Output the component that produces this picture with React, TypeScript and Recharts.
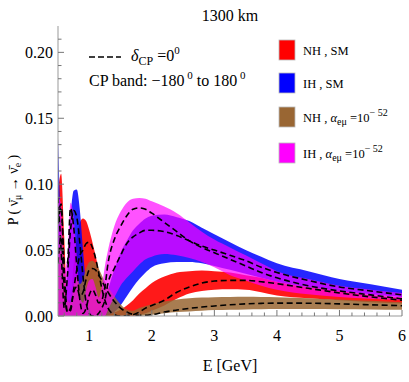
import { ComposedChart, Area, Line, XAxis, YAxis } from 'recharts';

// energies (GeV)
const energy = [0.5, 0.55, 0.6, 0.65, 0.7, 0.75, 0.8, 0.85, 0.9, 0.95, 1.0, 1.05, 1.1, 1.15, 1.2, 1.25, 1.3, 1.4, 1.5, 1.6, 1.7, 1.8, 1.9, 2.0, 2.2, 2.4, 2.6, 2.8, 3.0, 3.25, 3.5, 3.75, 4.0, 4.5, 5.0, 5.5, 6.0];

// NH, SM
const nhSmHi = [0.095, 0.108, 0.06, 0.012, 0.012, 0.04, 0.06, 0.071, 0.074, 0.072, 0.065, 0.056, 0.046, 0.035, 0.024, 0.014, 0.007, 0.003, 0.005, 0.008, 0.012, 0.017, 0.021, 0.025, 0.03, 0.033, 0.034, 0.0345, 0.034, 0.033, 0.031, 0.029, 0.026, 0.022, 0.019, 0.016, 0.014];
const nhSmLo = [0, 0, 0, 0, 0, 0, 0, 0, 0, 0, 0, 0, 0, 0, 0, 0, 0, 0, 0, 0, 0, 0.001, 0.002, 0.004, 0.008, 0.013, 0.017, 0.019, 0.02, 0.0202, 0.02, 0.018, 0.0155, 0.0135, 0.012, 0.0105, 0.0095];
const nhSmCp0 = [0.07, 0.082, 0.035, 0.003, 0.004, 0.02, 0.035, 0.046, 0.05, 0.055, 0.056, 0.052, 0.044, 0.033, 0.021, 0.012, 0.006, 0.001, 0, 0.0003, 0.001, 0.003, 0.006, 0.008, 0.012, 0.018, 0.022, 0.025, 0.0265, 0.027, 0.027, 0.026, 0.0245, 0.021, 0.0175, 0.0145, 0.012];

// IH, SM
const ihSmHi = [0.135, 0.06, 0.008, 0.035, 0.075, 0.095, 0.096, 0.08, 0.05, 0.022, 0.007, 0.002, 0.001, 0.002, 0.006, 0.012, 0.02, 0.035, 0.048, 0.057, 0.065, 0.07, 0.074, 0.076, 0.077, 0.075, 0.072, 0.067, 0.062, 0.056, 0.05, 0.045, 0.04, 0.034, 0.028, 0.024, 0.02];
const ihSmLo = [0, 0, 0, 0, 0, 0, 0, 0, 0, 0, 0, 0, 0, 0, 0, 0, 0.0005, 0.003, 0.008, 0.015, 0.022, 0.028, 0.033, 0.037, 0.04, 0.041, 0.041, 0.04, 0.038, 0.035, 0.032, 0.029, 0.026, 0.022, 0.019, 0.0165, 0.0145];
const ihSmCp0 = [0.09, 0.05, 0.006, 0.03, 0.065, 0.08, 0.075, 0.055, 0.03, 0.01, 0.002, 0, 0, 0.002, 0.006, 0.012, 0.025, 0.036, 0.046, 0.055, 0.06, 0.063, 0.065, 0.065, 0.064, 0.061, 0.057, 0.053, 0.05, 0.046, 0.042, 0.037, 0.033, 0.027, 0.022, 0.019, 0.016];

// NH, alpha_emu = 1e-52
const nhAlHi = [0.03, 0.065, 0.04, 0.012, 0.01, 0.022, 0.03, 0.024, 0.028, 0.036, 0.041, 0.042, 0.04, 0.036, 0.031, 0.026, 0.022, 0.015, 0.009, 0.005, 0.004, 0.006, 0.0075, 0.009, 0.011, 0.0125, 0.0135, 0.014, 0.0143, 0.0145, 0.0146, 0.0145, 0.0143, 0.0135, 0.0125, 0.0115, 0.0105];
const nhAlLo = [0, 0, 0, 0, 0, 0, 0, 0, 0, 0, 0, 0, 0, 0, 0, 0, 0, 0, 0, 0, 0, 0, 0.0005, 0.001, 0.002, 0.003, 0.0035, 0.004, 0.0045, 0.0048, 0.005, 0.0052, 0.0053, 0.0053, 0.0052, 0.005, 0.0047];
const nhAlCp0 = [0.04, 0.06, 0.02, 0.003, 0.006, 0.018, 0.022, 0.015, 0.018, 0.028, 0.035, 0.036, 0.035, 0.031, 0.027, 0.022, 0.018, 0.011, 0.006, 0.003, 0.0012, 0.0005, 0.0005, 0.001, 0.003, 0.0045, 0.0058, 0.0068, 0.0076, 0.0085, 0.0092, 0.0096, 0.0098, 0.0097, 0.0092, 0.0085, 0.0078];

// IH, alpha_emu = 1e-52
const ihAlHi = [0.09, 0.085, 0.035, 0.045, 0.086, 0.075, 0.045, 0.015, 0.01, 0.02, 0.027, 0.028, 0.022, 0.014, 0.022, 0.038, 0.05, 0.068, 0.079, 0.086, 0.089, 0.0895, 0.089, 0.087, 0.083, 0.078, 0.071, 0.064, 0.058, 0.052, 0.046, 0.04, 0.034, 0.028, 0.023, 0.02, 0.0175];
const ihAlLo = [0, 0, 0, 0, 0, 0, 0, 0, 0, 0, 0, 0, 0, 0, 0, 0, 0.005, 0.014, 0.023, 0.029, 0.034, 0.039, 0.043, 0.045, 0.047, 0.046, 0.044, 0.041, 0.037, 0.031, 0.027, 0.023, 0.02, 0.0165, 0.0145, 0.013, 0.012];
const ihAlCp0 = [0.075, 0.085, 0.04, 0.04, 0.082, 0.068, 0.038, 0.012, 0.002, 0.006, 0.016, 0.02, 0.016, 0.01, 0.012, 0.022, 0.04, 0.058, 0.068, 0.076, 0.081, 0.082, 0.081, 0.078, 0.071, 0.064, 0.057, 0.052, 0.048, 0.043, 0.038, 0.033, 0.029, 0.023, 0.019, 0.016, 0.013];

const xMajor = [1, 2, 3, 4, 5, 6];
const xMinor = [0.6, 0.8, 1.2, 1.4, 1.6, 1.8, 2.2, 2.4, 2.6, 2.8, 3.2, 3.4, 3.6, 3.8, 4.2, 4.4, 4.6, 4.8, 5.2, 5.4, 5.6, 5.8];
const yMajor = [0, 0.05, 0.1, 0.15, 0.2];
const yMinor = [0.01, 0.02, 0.03, 0.04, 0.06, 0.07, 0.08, 0.09, 0.11, 0.12, 0.13, 0.14, 0.16, 0.17, 0.18, 0.19, 0.21];

const data = energy.map((e, i) => ({
  e,
  nhSm: [nhSmLo[i], nhSmHi[i]],
  ihSm: [ihSmLo[i], ihSmHi[i]],
  nhAl: [nhAlLo[i], nhAlHi[i]],
  ihAl: [ihAlLo[i], ihAlHi[i]],
  nhSmCp0: nhSmCp0[i],
  ihSmCp0: ihSmCp0[i],
  nhAlCp0: nhAlCp0[i],
  ihAlCp0: ihAlCp0[i],
}));

const FONT = '"Liberation Serif", "Times New Roman", serif';
const TXT = { fontFamily: FONT };
const TICK = '#777';
const FRAME = '#999';
const DASH = '6 3.5';

const isMajor = (list: number[], v: number) => list.some((m) => Math.abs(m - v) < 1e-9);

const BottomTick = ({ x, y, payload }: any) => {
  const major = isMajor(xMajor, payload.value);
  return (
    <g>
      <line x1={x} x2={x} y1={y} y2={y - (major ? 6 : 3.5)} stroke={TICK} />
      {major && (
        <text x={x} y={y + 25} textAnchor="middle" fontSize={16} style={TXT} fill="#000">
          {payload.value}
        </text>
      )}
    </g>
  );
};

const TopTick = ({ x, y, payload }: any) => {
  const major = isMajor(xMajor, payload.value);
  return <line x1={x} x2={x} y1={y} y2={y + (major ? 6 : 3.5)} stroke={TICK} />;
};

const LeftTick = ({ x, y, payload }: any) => {
  const major = isMajor(yMajor, payload.value);
  return (
    <g>
      <line x1={x} x2={x + (major ? 6 : 3.5)} y1={y} y2={y} stroke={TICK} />
      {major && (
        <text x={x - 5} y={y + 6} textAnchor="end" fontSize={16} style={TXT} fill="#000">
          {payload.value.toFixed(2)}
        </text>
      )}
    </g>
  );
};

const RightTick = ({ x, y, payload }: any) => {
  const major = isMajor(yMajor, payload.value);
  return <line x1={x} x2={x - (major ? 6 : 3.5)} y1={y} y2={y} stroke={TICK} />;
};

const legendRows = [
  { color: '#ff0000', y: 40, label: 'NH', model: 'SM' },
  { color: '#0000ff', y: 73, label: 'IH', model: 'SM' },
  { color: '#996633', y: 107, label: 'NH', model: 'alpha' },
  { color: '#ff00ff', y: 143, label: 'IH', model: 'alpha' },
];

export default function App() {
  return (
    <div style={{ position: 'absolute', left: 0, top: 0, width: 409, height: 382, background: '#fff' }}>
      <ComposedChart
        width={409}
        height={382}
        data={data}
        margin={{ top: 26, right: 7, bottom: 36, left: 0 }}
      >
        <XAxis
          dataKey="e"
          type="number"
          domain={[0.5, 6]}
          allowDataOverflow
          ticks={[...xMinor, ...xMajor].sort((a, b) => a - b)}
          interval={0}
          height={30}
          tickSize={0}
          tickMargin={0}
          tickLine={false}
          axisLine={{ stroke: FRAME }}
          tick={<BottomTick />}
        />
        <XAxis
          xAxisId="top"
          orientation="top"
          dataKey="e"
          type="number"
          domain={[0.5, 6]}
          allowDataOverflow
          ticks={[...xMinor, ...xMajor].sort((a, b) => a - b)}
          interval={0}
          height={0}
          tickSize={0}
          tickMargin={0}
          tickLine={false}
          axisLine={{ stroke: FRAME }}
          tick={<TopTick />}
        />
        <YAxis
          type="number"
          domain={[0, 0.22]}
          allowDataOverflow
          ticks={[...yMinor, ...yMajor].sort((a, b) => a - b)}
          interval={0}
          width={58}
          tickSize={0}
          tickMargin={0}
          tickLine={false}
          axisLine={{ stroke: FRAME }}
          tick={<LeftTick />}
        />
        <YAxis
          yAxisId="right"
          orientation="right"
          type="number"
          domain={[0, 0.22]}
          allowDataOverflow
          ticks={[...yMinor, ...yMajor].sort((a, b) => a - b)}
          interval={0}
          width={0}
          tickSize={0}
          tickMargin={0}
          tickLine={false}
          axisLine={{ stroke: FRAME }}
          tick={<RightTick />}
        />

        <Area dataKey="nhSm" type="monotone" stroke="none" fill="#ff0000" fillOpacity={0.9} isAnimationActive={false} />
        <Area dataKey="ihSm" type="monotone" stroke="none" fill="#0000ff" fillOpacity={0.85} isAnimationActive={false} />
        <Area dataKey="nhAl" type="monotone" stroke="none" fill="#996633" fillOpacity={0.85} isAnimationActive={false} />
        <Area dataKey="ihAl" type="monotone" stroke="none" fill="#ff00ff" fillOpacity={0.68} isAnimationActive={false} />

        <Line dataKey="nhSmCp0" type="monotone" stroke="#000" strokeWidth={1.6} strokeDasharray={DASH} dot={false} isAnimationActive={false} />
        <Line dataKey="ihSmCp0" type="monotone" stroke="#000" strokeWidth={1.6} strokeDasharray={DASH} dot={false} isAnimationActive={false} />
        <Line dataKey="nhAlCp0" type="monotone" stroke="#000" strokeWidth={1.6} strokeDasharray={DASH} dot={false} isAnimationActive={false} />
        <Line dataKey="ihAlCp0" type="monotone" stroke="#000" strokeWidth={1.6} strokeDasharray={DASH} dot={false} isAnimationActive={false} />
      </ComposedChart>

      <svg width={409} height={382} style={{ position: 'absolute', left: 0, top: 0, pointerEvents: 'none', fontFamily: FONT }}>
        <text x={230} y={21} textAnchor="middle" fontSize={16} style={TXT}>1300 km</text>
        <text x={230} y={371} textAnchor="middle" fontSize={16} style={TXT}>E [GeV]</text>
        <text transform="translate(18,190) rotate(-90)" textAnchor="middle" fontSize={14} style={TXT}>
          P ( ν̄<tspan dy={3} fontSize={10}>μ</tspan>
          <tspan dy={-3}> → ν̄</tspan>
          <tspan dy={3} fontSize={10}>e</tspan>
          <tspan dy={-3}> )</tspan>
        </text>

        <line x1={89} x2={121} y1={57} y2={57} stroke="#000" strokeWidth={1.6} strokeDasharray="6 3" />
        <text x={131} y={61} fontSize={16} style={TXT}>
          <tspan fontStyle="italic">δ</tspan>
          <tspan dy={4} fontSize={12}>CP</tspan>
          <tspan dy={-4}> =0</tspan>
          <tspan dy={-7} fontSize={11}>0</tspan>
        </text>
        <text x={89} y={86} fontSize={16} style={TXT}>
          CP band: −180<tspan dy={-7} fontSize={11}> 0</tspan>
          <tspan dy={7}> to 180</tspan>
          <tspan dy={-7} fontSize={11}> 0</tspan>
        </text>

        {legendRows.map((r) => (
          <g key={r.label + r.model}>
            <rect x={279} y={r.y} width={16} height={20} fill={r.color} stroke="#bbb" strokeWidth={0.8} />
            {r.model === 'SM' ? (
              <text x={303} y={r.y + 15} fontSize={12.5} style={TXT}>{r.label} , SM</text>
            ) : (
              <text x={303} y={r.y + 15} fontSize={12.5} style={TXT}>
                {r.label} , <tspan fontStyle="italic">α</tspan>
                <tspan dy={3} fontSize={10}>eμ</tspan>
                <tspan dy={-3}> =10</tspan>
                <tspan dy={-6} fontSize={10}>− 52</tspan>
              </text>
            )}
          </g>
        ))}
      </svg>
    </div>
  );
}
